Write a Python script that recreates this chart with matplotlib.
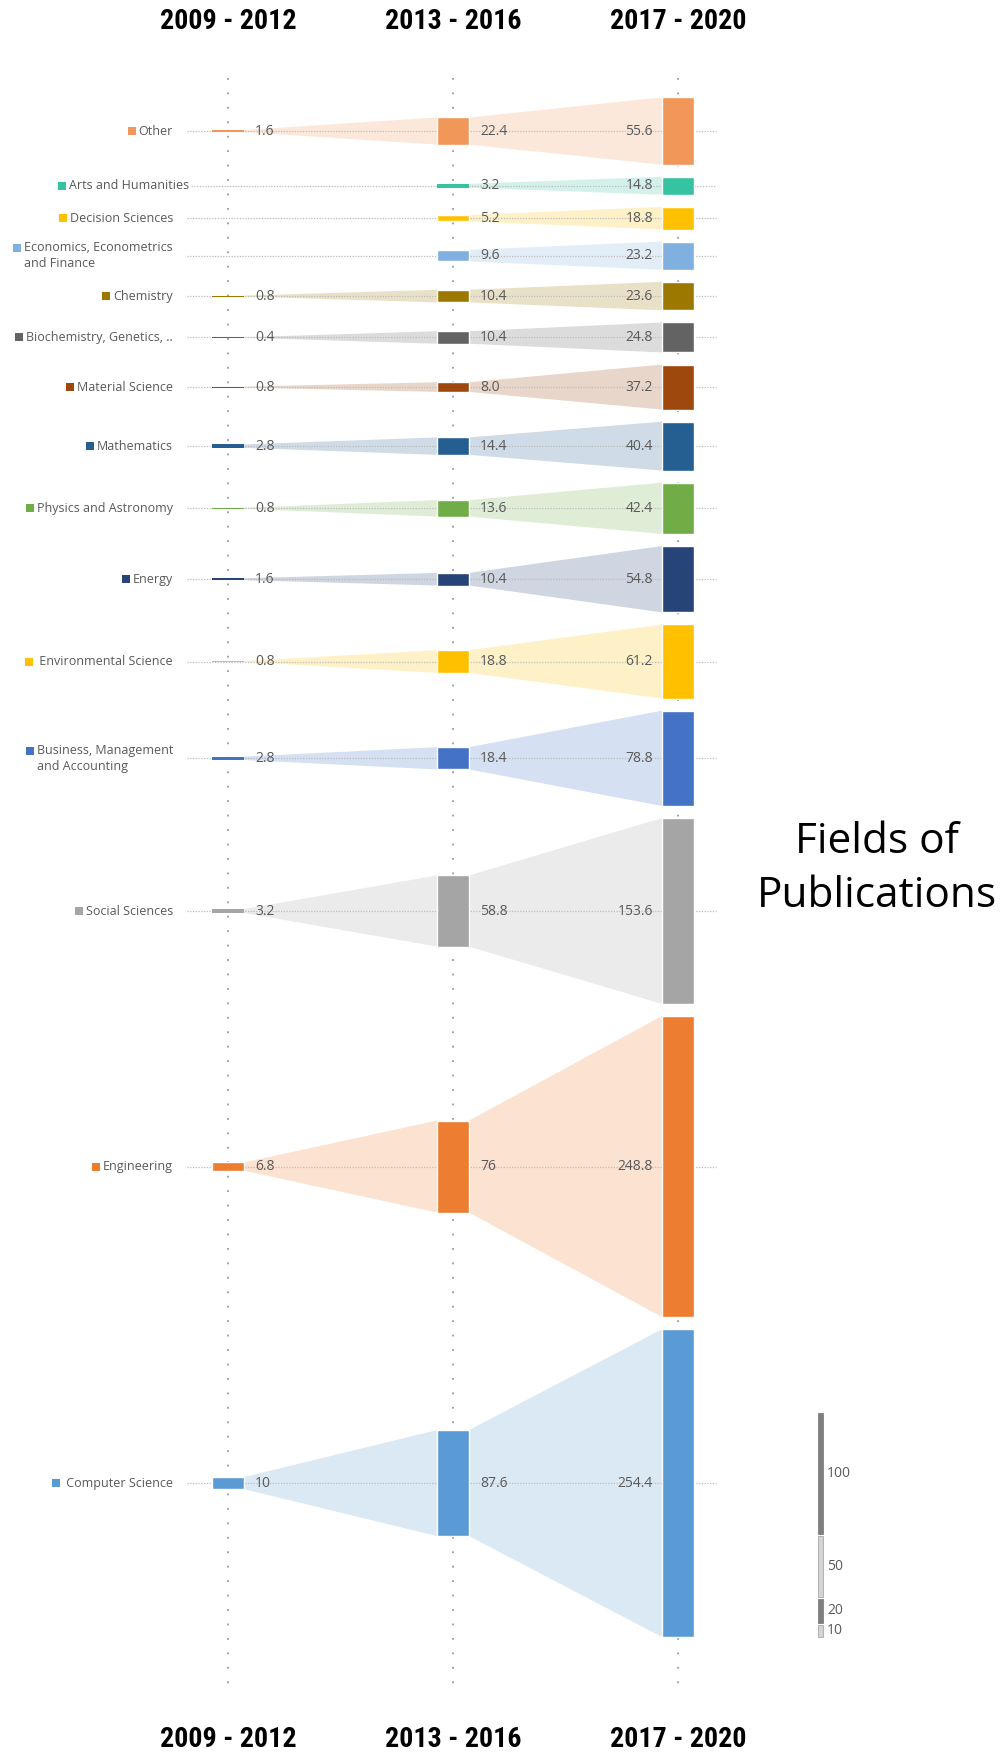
import matplotlib
matplotlib.use("Agg")
import matplotlib.pyplot as plt
from matplotlib import font_manager as fm
from matplotlib.patches import Rectangle, Polygon

# ---- data -------------------------------------------------------------
periods = ["2009 - 2012", "2013 - 2016", "2017 - 2020"]

fields = [
    "Other",
    "Arts and Humanities",
    "Decision Sciences",
    "Economics, Econometrics\nand Finance",
    "Chemistry",
    "Biochemistry, Genetics, ..",
    "Material Science",
    "Mathematics",
    "Physics and Astronomy",
    "Energy",
    " Environmental Science",
    "Business, Management\nand Accounting",
    "Social Sciences",
    "Engineering",
    " Computer Science",
]

# publication counts per period ("" = none in that period)
pubs_2009_2012 = ["1.6", "", "", "", "0.8", "0.4", "0.8", "2.8", "0.8",
                  "1.6", "0.8", "2.8", "3.2", "6.8", "10"]
pubs_2013_2016 = ["22.4", "3.2", "5.2", "9.6", "10.4", "10.4", "8.0", "14.4",
                  "13.6", "10.4", "18.8", "18.4", "58.8", "76", "87.6"]
pubs_2017_2020 = ["55.6", "14.8", "18.8", "23.2", "23.6", "24.8", "37.2",
                  "40.4", "42.4", "54.8", "61.2", "78.8", "153.6", "248.8",
                  "254.4"]

colors = ["#F1975A", "#36C3A1", "#FFC000", "#7FB0E0", "#9C7800", "#636363",
          "#9E480E", "#255E91", "#70AD47", "#264478", "#FFC000", "#4472C4",
          "#A5A5A5", "#ED7D31", "#5B9BD5"]

scale_values = [100, 50, 20, 10]

# ---- layout -----------------------------------------------------------
W, H, DPI = 1007, 1757, 100
X0, PX_X = 228, 225.0      # first column position / pixels per column
Y0, PX_Y = 97.4, 1.21      # top of first row / pixels per publication
GAP = 10.0                 # vertical gap between rows, in publications
BW = 32 / PX_X             # bar width in column units
label_nudge_px = {"Arts and Humanities": 16}

label_font = "Open Sans"
grey_txt = "#595959"


def narrow_bold_font():
    """Return (family, stretch) of an installed condensed bold face, if any."""
    cands = [("Liberation Sans Narrow", "normal"), ("Arial Narrow", "normal"),
             ("Roboto Condensed", "normal"), ("Open Sans Condensed", "normal"),
             ("Noto Sans", "condensed"), ("Open Sans", "condensed"),
             ("DejaVu Sans", "condensed")]
    for fam, st in cands:
        try:
            path = fm.findfont(fm.FontProperties(family=fam, stretch=st,
                                                 weight="bold"),
                               fallback_to_default=False)
        except Exception:
            continue
        name = path.lower()
        if "narrow" in name or "cond" in name:
            return fam, st
    return "DejaVu Sans", "normal"


fig = plt.figure(figsize=(W / DPI, H / DPI), dpi=DPI)
fig.patch.set_facecolor("white")
ax = fig.add_axes([0, 0, 1, 1])
ax.set_xlim(-X0 / PX_X, (W - X0) / PX_X)
ax.set_ylim((H - Y0) / PX_Y, -Y0 / PX_Y)
ax.axis("off")

series = [[float(v) if v else 0.0 for v in s]
          for s in (pubs_2009_2012, pubs_2013_2016, pubs_2017_2020)]
labels = [pubs_2009_2012, pubs_2013_2016, pubs_2017_2020]

# row centres: rows stacked by their latest-period height
centres = []
pos = 0.0
for v in series[2]:
    centres.append(pos + v / 2)
    pos += v + GAP
total_bottom = pos - GAP

px = lambda p: (p - X0) / PX_X        # pixel x -> data x
py = lambda p: (p - Y0) / PX_Y        # pixel y -> data y

# vertical dotted column guides
for j in range(3):
    ax.plot([j, j], [py(78), py(1690)], color="#9a9a9a", lw=1.3,
            linestyle=(0, (1, 7)), zorder=1)

cat_texts = []
for i, (name, col) in enumerate(zip(fields, colors)):
    c = centres[i]
    vals = [series[j][i] for j in range(3)]
    # horizontal row guide, starting just right of the label
    x_start = max(187, 173 + label_nudge_px.get(name, 0) + 2)
    ax.plot([px(x_start), px(716)], [c, c], color="#bdbdbd", lw=0.9,
            linestyle=(0, (1, 1.2)), zorder=3)
    # tapered connectors between consecutive periods
    for j in range(2):
        a, b = vals[j], vals[j + 1]
        if a <= 0 or b <= 0:
            continue
        poly = Polygon([(j + BW / 2, c - a / 2), (j + 1 - BW / 2, c - b / 2),
                        (j + 1 - BW / 2, c + b / 2), (j + BW / 2, c + a / 2)],
                       closed=True, facecolor=col, alpha=0.22, lw=0, zorder=2)
        ax.add_patch(poly)
    # bars and value labels
    for j in range(3):
        v = vals[j]
        if v <= 0:
            continue
        edge_lw = 1.0 if v * PX_Y > 5 else 0.0
        ax.add_patch(Rectangle((j - BW / 2, c - v / 2), BW, v, facecolor=col,
                               edgecolor="white", lw=edge_lw, zorder=4))
        if j < 2:
            ax.text(j + BW / 2 + 11 / PX_X, c, labels[j][i], ha="left",
                    va="center", fontsize=10, color=grey_txt,
                    family=label_font, zorder=5)
        else:
            ax.text(j - BW / 2 - 9 / PX_X, c, labels[j][i], ha="right",
                    va="center", fontsize=10, color=grey_txt,
                    family=label_font, zorder=5)
    # category label
    t = ax.text(px(173 + label_nudge_px.get(name, 0)), c, name, ha="right",
                va="center", multialignment="left", fontsize=9,
                color=grey_txt, family=label_font, linespacing=1.35, zorder=5)
    cat_texts.append(t)

# period headers, top and bottom
hfam, hstretch = narrow_bold_font()
headers = []
for j, p in enumerate(periods):
    for yy in (22, 1739):
        headers.append(ax.text(j, py(yy), p, ha="center", va="center",
                               fontsize=24, fontweight="bold",
                               fontstretch=hstretch, color="black",
                               family=hfam))

# side title
ax.text(px(877), py(869), "Fields of\nPublications", ha="center",
        va="center", fontsize=30.5, color="black", family=label_font,
        linespacing=1.36)

# size key, stacked upward from the bottom of the last row
kx, kw = px(820.5), 5 / PX_X
kgap = 2 / PX_Y
y = total_bottom
for k, sv in enumerate(reversed(scale_values)):
    dark = k % 2 == 1
    ax.add_patch(Rectangle((kx - kw / 2, y - sv), kw, sv,
                           facecolor="#7f7f7f" if dark else "#d4d4d4",
                           edgecolor="#7f7f7f" if dark else "#a8a8a8",
                           lw=0.6, zorder=4))
    ax.text(kx + kw / 2 + 4 / PX_X, y - sv / 2, str(sv), ha="left",
            va="center", fontsize=10, color=grey_txt, family=label_font)
    y -= sv + kgap

fig.canvas.draw()
renderer = fig.canvas.get_renderer()

# fit header text to the column spacing (about 137 px wide)
w0 = headers[0].get_window_extent(renderer).width
for h in headers:
    h.set_fontsize(24 * 137.0 / w0)

# colour squares at the first line of each category label
inv = ax.transData.inverted()
for t, col in zip(cat_texts, colors):
    bb = t.get_window_extent(renderer)
    nlines = t.get_text().count("\n") + 1
    line_h = bb.height / nlines
    xd, yd = inv.transform((bb.x0 - 7, bb.y1 - line_h / 2))
    ax.plot([xd], [yd], marker="s", markersize=5.2, color=col,
            markeredgewidth=0, zorder=5)

fig.savefig("out.png", dpi=DPI, facecolor="white")
